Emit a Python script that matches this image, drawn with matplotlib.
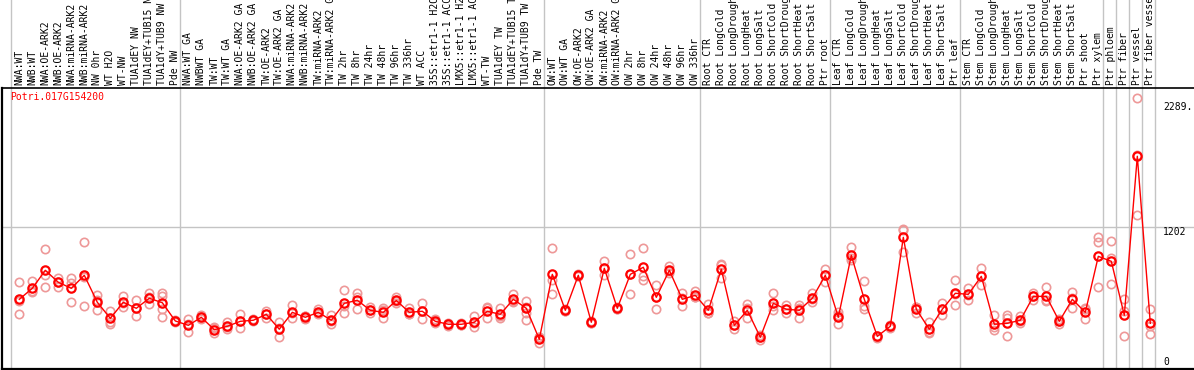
import matplotlib
matplotlib.use("Agg")
import matplotlib.pyplot as plt

gene = "Potri.017G154200"

labels = [
    "NWA:WT", "NWB:WT", "NWA:OE-ARK2", "NWB:OE-ARK2", "NWA:miRNA-ARK2", "NWB:miRNA-ARK2",
    "NW 0hr", "WT H2O", "WT-NW", "TUA1dEY NW", "TUA1dEY+TUB15 NW", "TUA1dY+TUB9 NW", "Pde NW",
    "NWA:WT GA", "NWBWT GA", "TW:WT", "TW:WT GA", "NWA:OE-ARK2 GA", "NWB:OE-ARK2 GA",
    "TW:OE-ARK2", "TW:OE-ARK2 GA", "NWA:miRNA-ARK2 GA", "NWB:miRNA-ARK2 GA", "TW:miRNA-ARK2",
    "TW:miRNA-ARK2 GA", "TW 2hr", "TW 8hr", "TW 24hr", "TW 48hr", "TW 96hr", "TW 336hr",
    "WT ACC", "35S::etr1-1 H2O", "35S::etr1-1 ACC", "LMX5::etr1-1 H2O", "LMX5::etr1-1 ACC",
    "WT-TW", "TUA1dEY TW", "TUA1dEY+TUB15 TW", "TUA1dY+TUB9 TW", "Pde TW",
    "OW:WT", "OW:WT GA", "OW:OE-ARK2", "OW:OE-ARK2 GA", "OW:miRNA-ARK2", "OW:miRNA-ARK2 GA",
    "OW 2hr", "OW 8hr", "OW 24hr", "OW 48hr", "OW 96hr", "OW 336hr",
    "Root CTR", "Root LongCold", "Root LongDrought", "Root LongHeat", "Root LongSalt",
    "Root ShortCold", "Root ShortDrought", "Root ShortHeat", "Root ShortSalt", "Ptr root",
    "Leaf CTR", "Leaf LongCold", "Leaf LongDrought", "Leaf LongHeat", "Leaf LongSalt",
    "Leaf ShortCold", "Leaf ShortDrought", "Leaf ShortHeat", "Leaf ShortSalt", "Ptr leaf",
    "Stem CTR", "Stem LongCold", "Stem LongDrought", "Stem LongHeat", "Stem LongSalt",
    "Stem ShortCold", "Stem ShortDrought", "Stem ShortHeat", "Stem ShortSalt", "Ptr shoot",
    "Ptr xylem", "Ptr phloem", "Ptr fiber", "Ptr vessel", "Ptr fiber vessel",
]

# mean expression per sample
means = [
    589, 682, 834, 733, 682, 792, 564, 428, 564, 513, 598, 560, 406,
    369, 437, 332, 361, 403, 412, 462, 336, 479, 437, 479, 412, 555, 581, 496, 479, 579,
    479, 488, 403, 378, 378, 395, 488, 462, 589, 513, 251,
    800, 496, 792, 395, 851, 513, 800, 860, 606, 834, 589, 623,
    496, 843, 369, 496, 268, 555, 505, 496, 598, 792,
    437, 961, 589, 276, 361, 1113, 505, 336, 505, 640,
    631, 783, 378, 386, 412, 614, 614, 403, 589, 479, 952,
    910, 454, 1798, 386,
]

# individual replicates per sample
reps = [
    [733, 462, 572], [741, 648, 659], [1012, 792, 691], [767, 696, 735], [767, 724, 564],
    [1071, 530, 775], [623, 496, 583], [488, 395, 378], [614, 521, 558], [581, 445, 516],
    [640, 547, 609], [640, 614, 505, 437], [406, 414, 397],
    [420, 310, 380], [454, 420, 439], [352, 302, 347], [395, 336, 355], [462, 344, 406],
    [414, 423, 406], [488, 428, 465], [395, 268, 347], [538, 428, 473], [445, 420, 448],
    [505, 462, 473], [454, 378, 406], [665, 471, 532], [640, 606, 505], [521, 471, 499],
    [496, 428, 516], [606, 555, 575], [513, 462, 465], [555, 420, 490], [423, 397, 389],
    [389, 363, 380], [389, 372, 376], [445, 352, 389], [521, 428, 516], [513, 428, 448],
    [631, 564, 575], [572, 521, 471, 412], [268, 217, 268],
    [1020, 631, 752], [507, 490, 494], [803, 786, 786], [406, 389, 389], [910, 792, 854],
    [524, 503, 511], [969, 631, 800], [1020, 783, 750], [707, 505, 606], [868, 826, 811],
    [640, 530, 600], [657, 606, 609],
    [547, 471, 473], [885, 767, 879], [403, 336, 372], [547, 428, 516], [270, 245, 287],
    [640, 496, 532], [538, 471, 507], [513, 428, 541], [640, 564, 592], [843, 733, 794],
    [479, 378, 456], [1029, 919, 938], [741, 530, 505], [279, 262, 270], [372, 347, 363],
    [1172, 986, 1181], [521, 471, 524], [395, 310, 303], [555, 454, 507], [750, 538, 634],
    [682, 581, 625], [851, 707, 786], [454, 327, 355], [454, 276, 431], [445, 386, 406],
    [640, 581, 617], [691, 572, 583], [420, 378, 406], [648, 513, 600], [513, 420, 507],
    [1113, 1071, 691],
    [1079, 936, 716], [589, 488, 276], [2288, 1299, 1809], [505, 293, 361],
]

# group boundaries (sample index where a new block starts)
group_starts = [0, 13, 41, 53, 63, 73, 84, 85, 86, 87, 88]
y_ticks = [0, 1202, 2289]
y_tick_text = ["0", "1202", "2289."]

W, H = 1194, 370
fig = plt.figure(figsize=(W / 100, H / 100), dpi=100)
ax = fig.add_axes([1.5 / W, 1 / H, 1192.5 / W, 281 / H])
x = list(range(len(means)))
ax.set_xlim(-1.37, -1.37 + 1192.5 / 13)
ax.set_ylim(0, 2375)

mono = "DejaVu Sans Mono"
grid_c = "#c4c4c4"

# vertical separators, running up through the label area
for g in group_starts:
    ax.plot([g - 0.64, g - 0.64], [0, 1.4], color=grid_c, lw=1.0,
            transform=ax.get_xaxis_transform(), clip_on=False, zorder=1)
ax.axhline(1202, color=grid_c, lw=1.0, zorder=1)

# replicates
for i, r in enumerate(reps):
    ax.plot([i] * len(r), r, "o", ms=6, mfc="none", mec="#ee9898", mew=1.2, zorder=2)

ax.plot(x, means, "-", color="red", lw=1.0, zorder=3)
ax.plot(x, means, "o", ms=6, mfc="none", mec="red", mew=1.6, zorder=4)

for i, lab in enumerate(labels):
    ax.text(i, 1.011, lab, rotation=90, ha="center", va="bottom", fontsize=7,
            family=mono, transform=ax.get_xaxis_transform(), clip_on=False)

ax.text(8.5 / 1192.5, 1 - 8.7 / 281, gene, color="red", fontsize=7, family=mono,
        ha="left", va="center", transform=ax.transAxes)

ypix = {0: 362, 1202: 232, 2289: 106.5}
for v, t in zip(y_ticks, y_tick_text):
    ax.text((1163 - 1.5) / 1192.5, (369 - ypix[v]) / 281, t, fontsize=7, family=mono,
            ha="left", va="center", transform=ax.transAxes)

ax.set_xticks([])
ax.set_yticks([])
for s in ["left", "bottom"]:
    ax.spines[s].set_linewidth(1.6)
ax.spines["top"].set_linewidth(1.2)
ax.spines["right"].set_visible(False)

fig.savefig("out.png", dpi=100)
